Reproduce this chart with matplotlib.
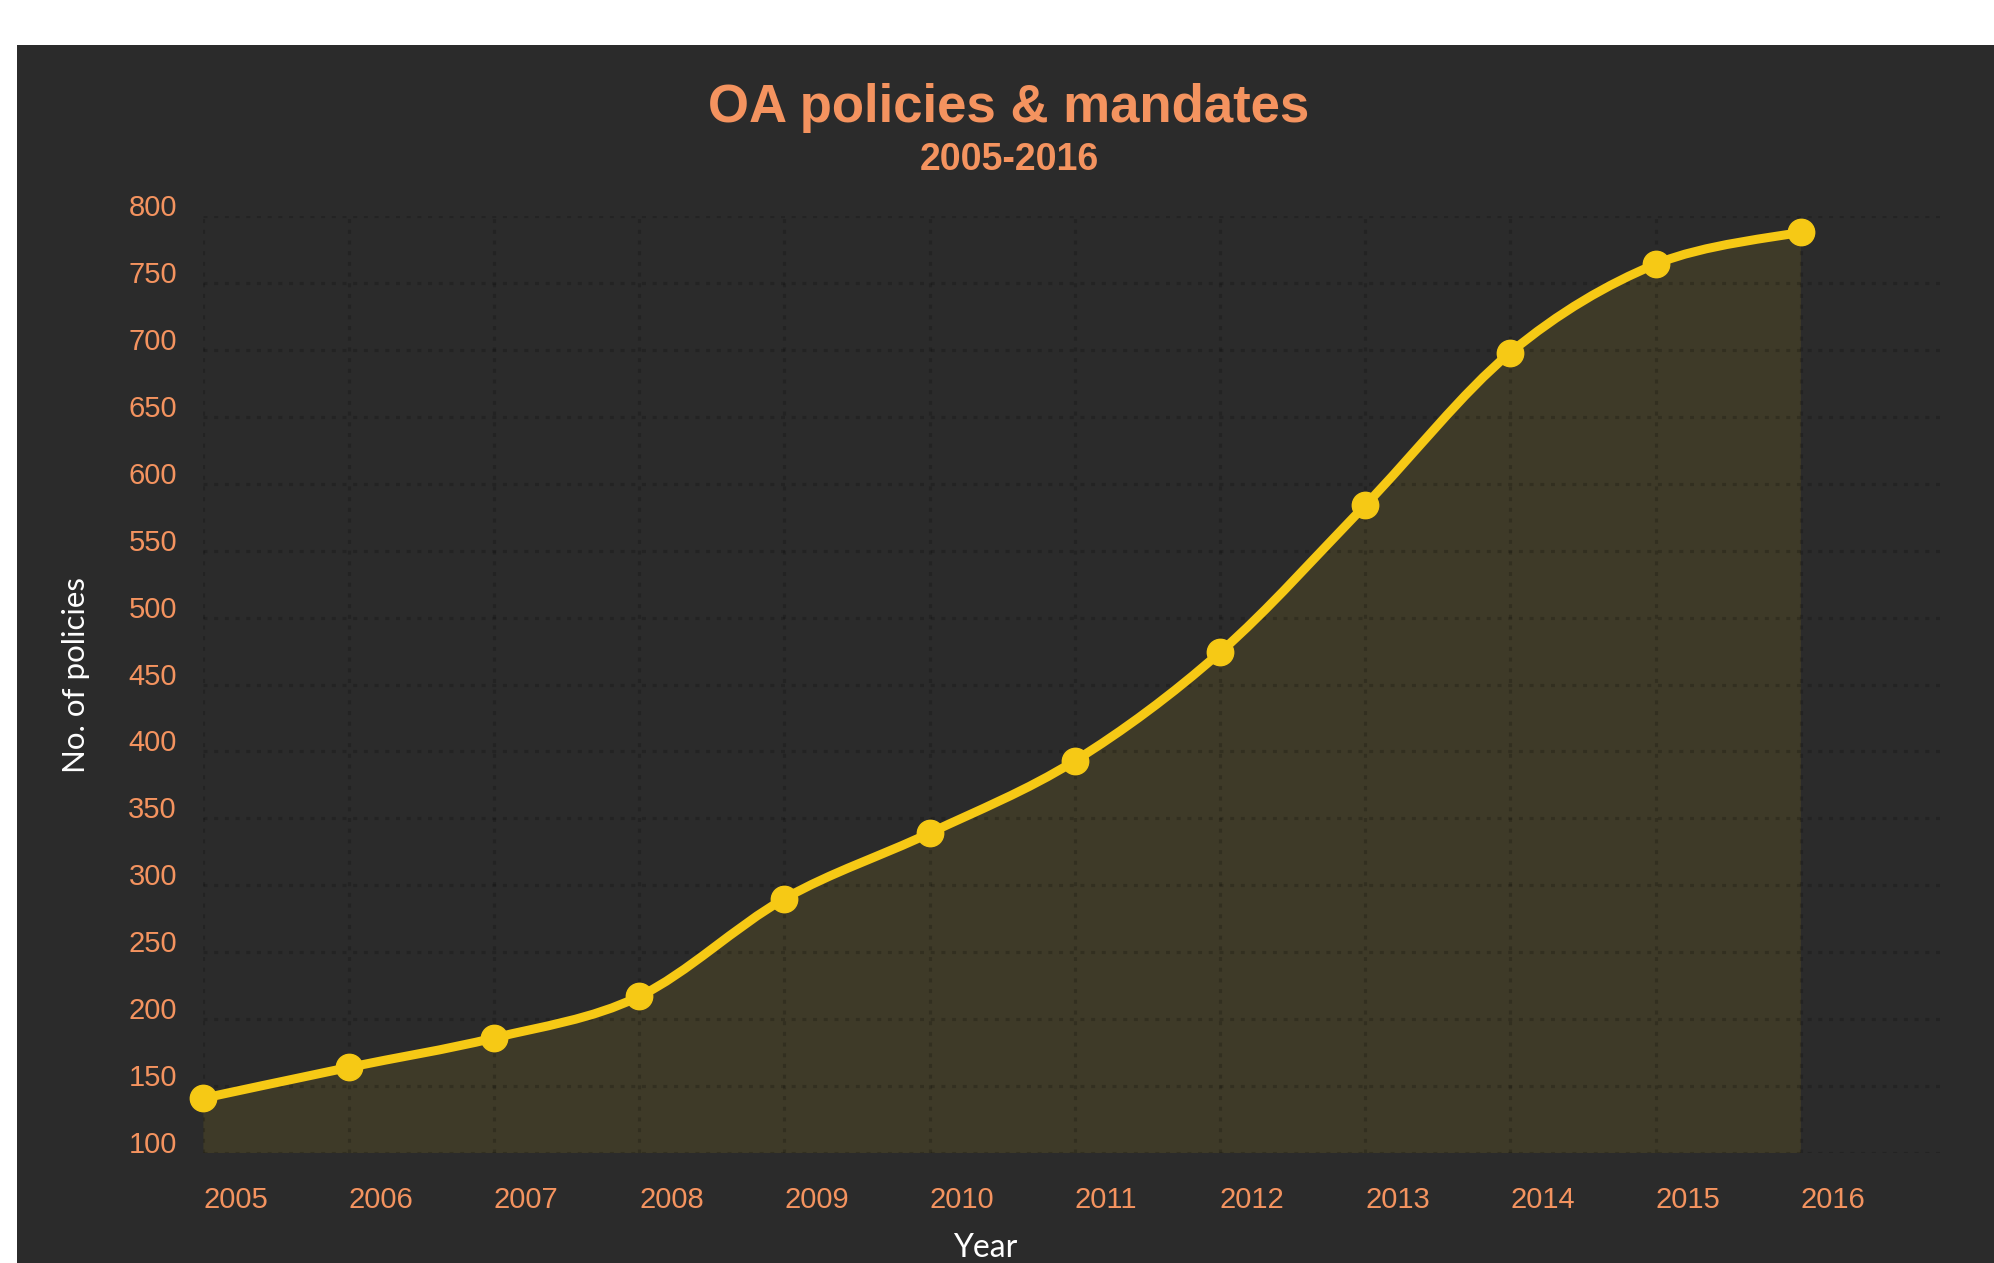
import matplotlib.pyplot as plt
from matplotlib.path import Path
from matplotlib.patches import PathPatch, Rectangle

years = [2005, 2006, 2007, 2008, 2009, 2010, 2011, 2012, 2013, 2014, 2015, 2016]
policies = [141, 164, 186, 217, 290, 339, 393, 474, 584, 698, 764, 788]
y_ticks = [100, 150, 200, 250, 300, 350, 400, 450, 500, 550, 600, 650, 700, 750, 800]

bg = '#2b2b2b'
orange = '#f4935f'
yellow = '#f6c915'

fig = plt.figure(figsize=(19.94, 12.63), dpi=100)
fig.patch.set_facecolor('white')
fig.add_artist(Rectangle((17 / 1994, 0), 1, 1 - 45 / 1263, transform=fig.transFigure,
                         facecolor=bg, edgecolor='none', zorder=0))

ax = fig.add_axes([0.102, 0.087, 0.874, 0.742])
ax.set_facecolor(bg)
for s in ax.spines.values():
    s.set_visible(False)


# smooth curve through the points (catmull-rom as bezier segments)
def spline_verts(xs, ys):
    pts = list(zip(xs, ys))
    verts = [pts[0]]
    codes = [Path.MOVETO]
    n = len(pts)
    for i in range(n - 1):
        p0 = pts[i - 1] if i > 0 else pts[i]
        p1 = pts[i]
        p2 = pts[i + 1]
        p3 = pts[i + 2] if i + 2 < n else pts[i + 1]
        c1 = (p1[0] + (p2[0] - p0[0]) / 6, p1[1] + (p2[1] - p0[1]) / 6)
        c2 = (p2[0] - (p3[0] - p1[0]) / 6, p2[1] - (p3[1] - p1[1]) / 6)
        verts += [c1, c2, p2]
        codes += [Path.CURVE4] * 3
    return verts, codes


verts, codes = spline_verts(years, policies)

fill_verts = verts + [(years[-1], 0), (years[0], 0), verts[0]]
fill_codes = codes + [Path.LINETO, Path.LINETO, Path.CLOSEPOLY]
ax.add_patch(PathPatch(Path(fill_verts, fill_codes), facecolor='#3e3a28',
                       edgecolor='none', zorder=1))

# dotted grid drawn over the fill
ax.grid(True, color='black', alpha=0.18, linestyle=(0, (1.3, 2.2)), linewidth=2.2, zorder=2)

ax.add_patch(PathPatch(Path(verts, codes), facecolor='none', edgecolor=yellow,
                       linewidth=6.5, capstyle='round', joinstyle='round', zorder=3,
                       clip_on=False))
ax.plot(years, policies, 'o', color=yellow, markersize=19, zorder=4, clip_on=False)

ax.set_xlim(2005, 2017)
ax.set_ylim(100, 800)
ax.set_xticks(years)
ax.set_xticklabels([str(y) for y in years])
ax.set_yticks(y_ticks)
ax.set_yticklabels([str(v) for v in y_ticks])

ax.tick_params(axis='both', length=0, labelcolor=orange, labelsize=21)
ax.tick_params(axis='x', pad=24)
ax.tick_params(axis='y', pad=19)
for lab in ax.get_xticklabels():
    lab.set_horizontalalignment('left')
    lab.set_family('Liberation Sans')
for lab in ax.get_yticklabels():
    lab.set_verticalalignment('baseline')
    lab.set_family('Liberation Sans')

fig.text(60 / 1568, 1 - 531 / 993, 'No. of policies', rotation=90, ha='center', va='center',
         color='white', fontsize=22.5, family='Lato')
fig.text(775 / 1568, 1 - 981 / 993, 'Year', ha='center', va='center',
         color='white', fontsize=23, family='Lato')

fig.text(0.506, 1 - 85 / 993, 'OA policies & mandates', ha='center', va='center',
         color=orange, fontsize=38, fontweight='bold', family='Liberation Sans')
fig.text(0.506, 1 - 126 / 993, '2005-2016', ha='center', va='center',
         color=orange, fontsize=27, fontweight='bold', family='Liberation Sans')

fig.savefig('out.png', dpi=100, facecolor=fig.get_facecolor())
